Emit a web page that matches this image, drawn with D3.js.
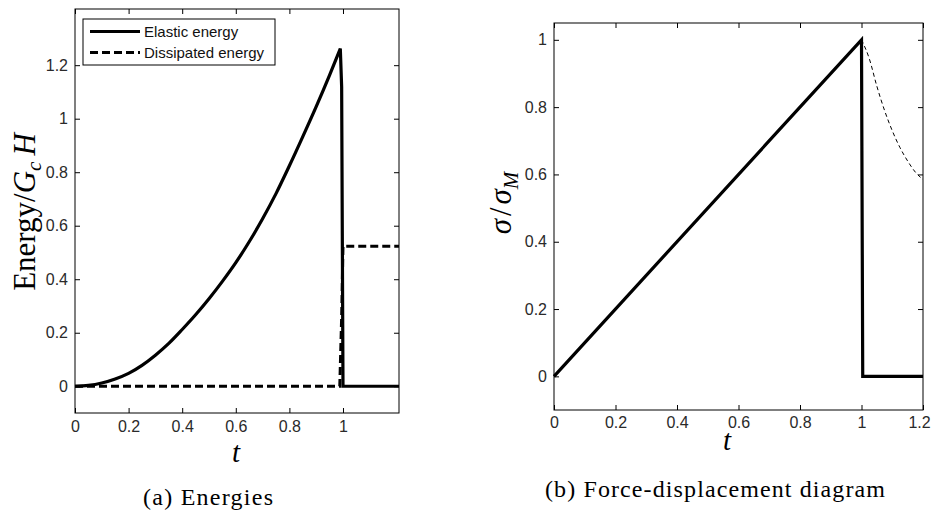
<!DOCTYPE html>
<html>
<head>
<meta charset="utf-8">
<script src="https://cdn.jsdelivr.net/npm/d3@7"></script>
<style>
  html, body { margin: 0; padding: 0; background: #fff; }
  svg { display: block; }
  .tick text { font-family: "Liberation Sans", Arial, Helvetica, sans-serif; font-size: 16px; fill: #2a2a2a; }
  .serif { font-family: "Liberation Serif", "DejaVu Serif", "Times New Roman", serif; fill: #000; }
</style>
</head>
<body>
<svg id="chart" width="933" height="515"></svg>
<script>
// ---------- Data: panel (a) Energies ----------
const elasticT = [0, 0.05, 0.1, 0.15, 0.2, 0.25, 0.3, 0.35, 0.4, 0.45, 0.5, 0.55, 0.6, 0.65, 0.7, 0.75, 0.8, 0.85, 0.9, 0.95, 0.99, 0.995, 1.0, 1.209];
const elasticE = [0, 0.003, 0.012, 0.027, 0.048, 0.078, 0.116, 0.16, 0.212, 0.267, 0.327, 0.392, 0.462, 0.54, 0.626, 0.72, 0.824, 0.933, 1.045, 1.163, 1.262, 1.12, 0, 0];
const dissipT = [0, 0.988, 0.995, 1.0, 1.209];
const dissipE = [0, 0, 0.26, 0.523, 0.523];
const aXTicks = [0, 0.2, 0.4, 0.6, 0.8, 1];
const aYTicks = [0, 0.2, 0.4, 0.6, 0.8, 1, 1.2];
const legendLabels = ["Elastic energy", "Dissipated energy"];

// ---------- Data: panel (b) Force-displacement ----------
const stressT = [0, 1.0, 1.004, 1.2];
const stressS = [0, 1.0, 0, 0];
const softT = [1.0, 1.025, 1.05, 1.075, 1.1, 1.125, 1.15, 1.175, 1.2];
const softS = [1.0, 0.945, 0.862, 0.79, 0.73, 0.68, 0.64, 0.607, 0.585];
const bXTicks = [0, 0.2, 0.4, 0.6, 0.8, 1, 1.2];
const bYTicks = [0, 0.2, 0.4, 0.6, 0.8, 1];

const fmt = d => String(+d.toFixed(1));
const svg = d3.select("#chart");

function panel(cfg) {
  const x = d3.scaleLinear().domain(cfg.xDomain).range([cfg.left, cfg.right]);
  const y = d3.scaleLinear().domain(cfg.yDomain).range([cfg.bottom, cfg.top]);
  const g = svg.append("g");
  const tk = 5;
  const bx = g.append("g").attr("transform", `translate(0,${cfg.bottom})`)
    .call(d3.axisBottom(x).tickValues(cfg.xTicks).tickFormat(fmt).tickSizeInner(-tk).tickSizeOuter(0).tickPadding(cfg.xPad))
    .call(a => a.select(".domain").remove());
  g.append("g").attr("transform", `translate(0,${cfg.top})`)
    .call(d3.axisTop(x).tickValues(cfg.xTicks).tickFormat("").tickSizeInner(-tk).tickSizeOuter(0))
    .call(a => a.select(".domain").remove());
  g.append("g").attr("transform", `translate(${cfg.left},0)`)
    .call(d3.axisLeft(y).tickValues(cfg.yTicks).tickFormat(fmt).tickSizeInner(-tk).tickSizeOuter(0).tickPadding(cfg.yPad))
    .call(a => a.select(".domain").remove());
  g.append("g").attr("transform", `translate(${cfg.right},0)`)
    .call(d3.axisRight(y).tickValues(cfg.yTicks).tickFormat("").tickSizeInner(-tk).tickSizeOuter(0))
    .call(a => a.select(".domain").remove());
  g.selectAll(".tick line").attr("stroke", "#000").attr("stroke-width", 1);
  g.selectAll(".tick text").attr("font-family", null).attr("font-size", null);
  g.append("rect")
    .attr("x", cfg.left).attr("y", cfg.top)
    .attr("width", cfg.right - cfg.left).attr("height", cfg.bottom - cfg.top)
    .attr("fill", "none").attr("stroke", "#000").attr("stroke-width", 1);
  return { x, y, g, bx };
}

const line = (x, y, curve) => d3.line().x(d => x(d[0])).y(d => y(d[1])).curve(curve || d3.curveLinear);

// ---------- Panel (a) ----------
const A = panel({
  xDomain: [0, 1.209], yDomain: [-0.1, 1.41],
  left: 75, right: 399, top: 9, bottom: 413,
  xTicks: aXTicks, yTicks: aYTicks, xPad: 8, yPad: 7
});
A.g.append("path").datum(d3.zip(dissipT, dissipE)).attr("d", line(A.x, A.y))
  .attr("fill", "none").attr("stroke", "#000").attr("stroke-width", 3)
  .attr("stroke-dasharray", "8,4");
const elastic = d3.zip(elasticT, elasticE);
const peakIdx = d3.maxIndex(elasticE);
const elasticPath = line(A.x, A.y, d3.curveMonotoneX)(elastic.slice(0, peakIdx + 1)) +
  line(A.x, A.y)(elastic.slice(peakIdx)).replace(/^M/, "L");
A.g.append("path").attr("d", elasticPath)
  .attr("fill", "none").attr("stroke", "#000").attr("stroke-width", 3.2)
  .attr("stroke-linejoin", "miter");

// legend
const lg = A.g.append("g");
lg.append("rect").attr("x", 83).attr("y", 19).attr("width", 192).attr("height", 46)
  .attr("fill", "#fff").attr("stroke", "#000").attr("stroke-width", 1);
legendLabels.forEach((lab, i) => {
  const yy = 31.5 + i * 21;
  lg.append("line").attr("x1", 90).attr("x2", 140).attr("y1", yy).attr("y2", yy)
    .attr("stroke", "#000").attr("stroke-width", 3)
    .attr("stroke-dasharray", i === 1 ? "8,4" : null);
  lg.append("text").attr("x", 144).attr("y", yy).attr("dy", "0.36em")
    .attr("font-family", "Liberation Sans, Arial, sans-serif").attr("font-size", 15)
    .attr("fill", "#111").text(lab);
});

// y label (a)
const yla = svg.append("text").attr("class", "serif")
  .attr("transform", "translate(35,212) rotate(-90)")
  .attr("text-anchor", "middle").attr("font-size", 31);
yla.append("tspan").text("Energy/");
yla.append("tspan").attr("font-style", "italic").text("G");
yla.append("tspan").attr("font-style", "italic").attr("font-size", 21).attr("dy", 6).text("c");
yla.append("tspan").attr("font-style", "italic").attr("dy", -6).attr("dx", 6).text("H");

// x label (a)
svg.append("text").attr("class", "serif").attr("x", 236).attr("y", 462)
  .attr("text-anchor", "middle").attr("font-size", 29).attr("font-style", "italic").text("t");

// caption (a)
svg.append("text").attr("class", "serif").attr("x", 208).attr("y", 505)
  .attr("text-anchor", "middle").attr("font-size", 24)
  .attr("textLength", 130).attr("lengthAdjust", "spacing").text("(a) Energies");

// ---------- Panel (b) ----------
const B = panel({
  xDomain: [0, 1.2], yDomain: [-0.1, 1.05],
  left: 554, right: 923, top: 23, bottom: 410,
  xTicks: bXTicks, yTicks: bYTicks, xPad: 7, yPad: 7
});
// last tick label sits slightly inside the figure edge, as in the reference
B.bx.selectAll(".tick text").filter(d => d === bXTicks[bXTicks.length - 1]).attr("dx", -4);
B.g.append("path").datum(d3.zip(softT, softS)).attr("d", line(B.x, B.y, d3.curveMonotoneX))
  .attr("fill", "none").attr("stroke", "#000").attr("stroke-width", 1)
  .attr("stroke-dasharray", "4,3");
B.g.append("path").datum(d3.zip(stressT, stressS)).attr("d", line(B.x, B.y))
  .attr("fill", "none").attr("stroke", "#000").attr("stroke-width", 3.2)
  .attr("stroke-linejoin", "miter");

// y label (b)
const ylb = svg.append("text").attr("class", "serif")
  .attr("transform", "translate(511,203) rotate(-90)")
  .attr("text-anchor", "middle").attr("font-size", 31);
ylb.append("tspan").attr("font-style", "italic").text("σ");
ylb.append("tspan").attr("dx", 3).text("/");
ylb.append("tspan").attr("dx", 3).attr("font-style", "italic").text("σ");
ylb.append("tspan").attr("font-style", "italic").attr("font-size", 21).attr("dy", 7).text("M");

// x label (b)
svg.append("text").attr("class", "serif").attr("x", 727).attr("y", 450)
  .attr("text-anchor", "middle").attr("font-size", 29).attr("font-style", "italic").text("t");

// caption (b)
svg.append("text").attr("class", "serif").attr("x", 715).attr("y", 497)
  .attr("text-anchor", "middle").attr("font-size", 24)
  .attr("textLength", 340).attr("lengthAdjust", "spacing").text("(b) Force-displacement diagram");
</script>
</body>
</html>
